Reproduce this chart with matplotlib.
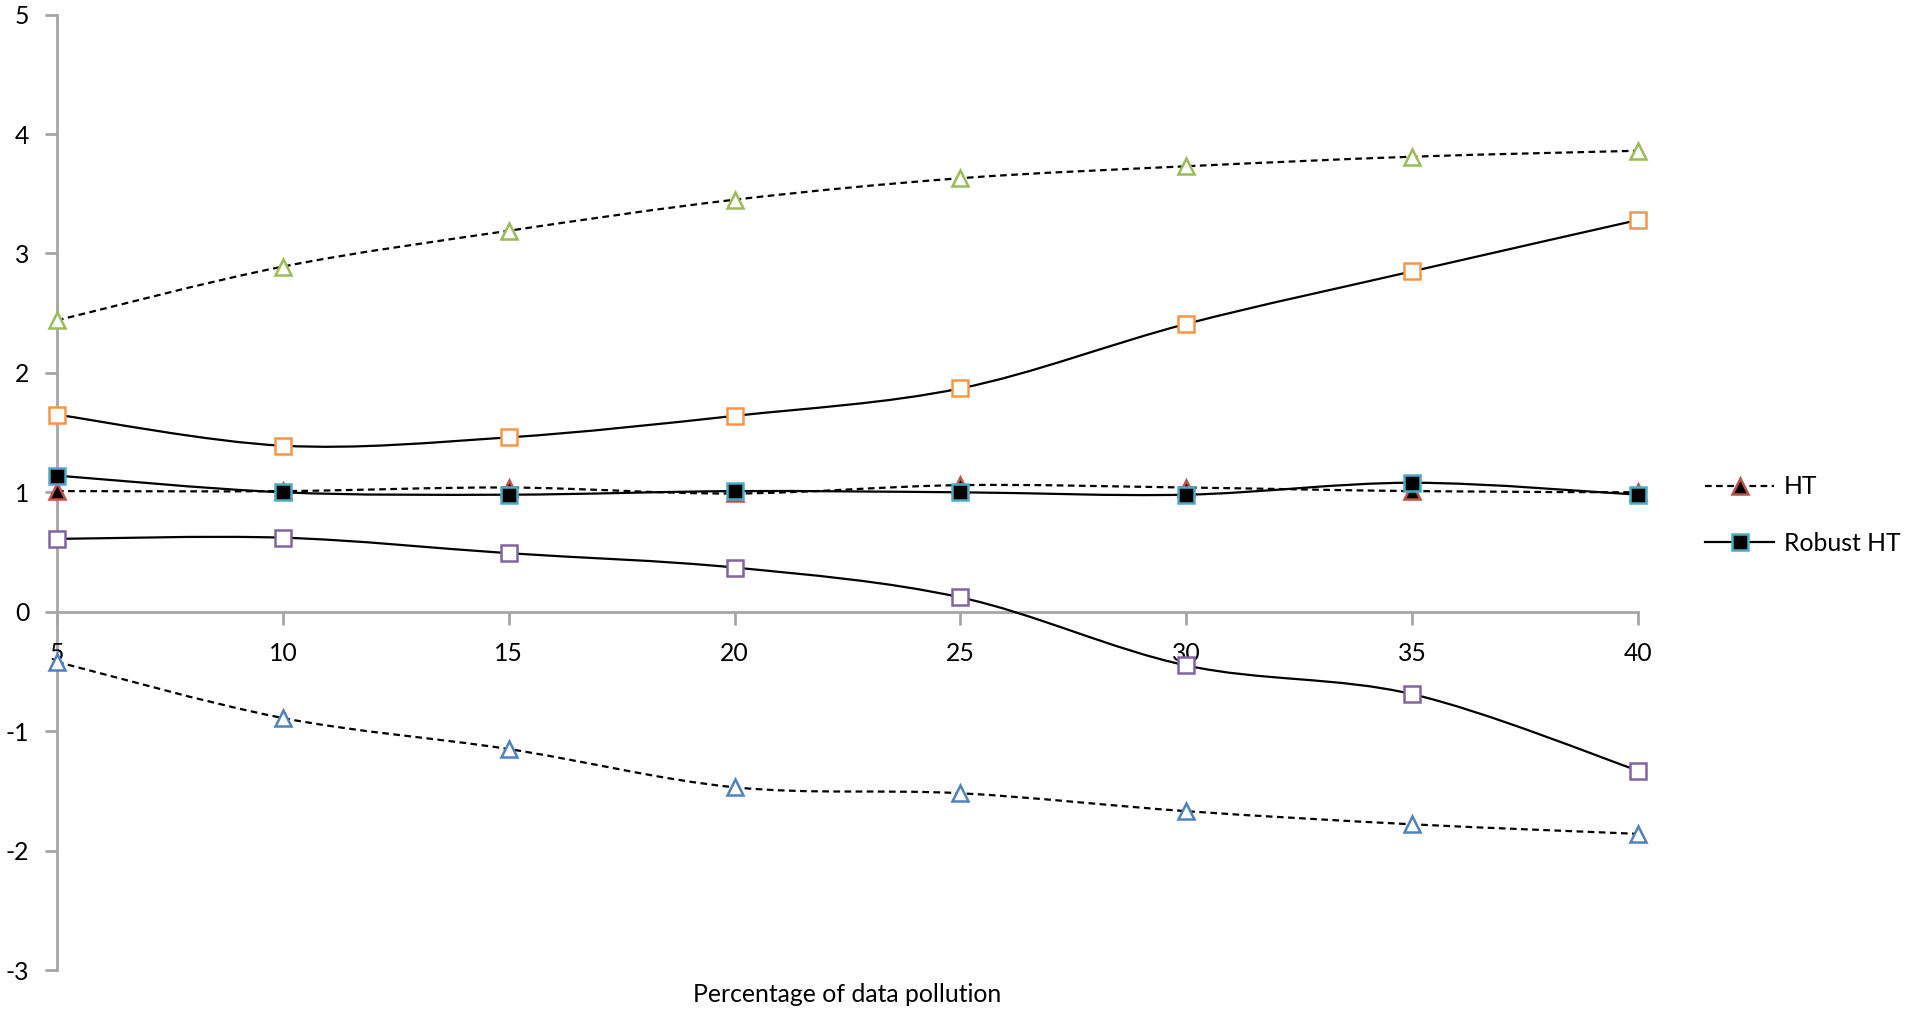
import matplotlib
matplotlib.use("Agg")
import matplotlib.pyplot as plt
from matplotlib.path import Path
from matplotlib.patches import PathPatch
from matplotlib.lines import Line2D
import numpy as np

plt.rcParams['font.family'] = ['Lato', 'DejaVu Sans']

pollution = [5, 10, 15, 20, 25, 30, 35, 40]
upper_ht = [2.44, 2.89, 3.19, 3.45, 3.63, 3.73, 3.81, 3.86]
upper_robust = [1.65, 1.39, 1.46, 1.64, 1.87, 2.41, 2.85, 3.28]
ht = [1.01, 1.01, 1.04, 0.99, 1.06, 1.04, 1.01, 1.00]
robust_ht = [1.14, 1.00, 0.98, 1.01, 1.00, 0.98, 1.08, 0.98]
lower_robust = [0.61, 0.62, 0.49, 0.37, 0.12, -0.45, -0.69, -1.33]
lower_ht = [-0.42, -0.89, -1.15, -1.47, -1.52, -1.67, -1.78, -1.86]

y_ticks = [-3, -2, -1, 0, 1, 2, 3, 4, 5]
x_label = "Percentage of data pollution"

W, H = 1910, 1011
fig = plt.figure(figsize=(W / 100, H / 100), dpi=100)
ax = fig.add_axes([57 / W, (H - 970) / H, (1638 - 57) / W, (970 - 14.6) / H])
ax.set_xlim(5, 40)
ax.set_ylim(-3, 5)

axis_gray = '#A6A6A6'
FS = 17.8


def smooth_path(xs, ys):
    pts = np.column_stack([xs, ys]).astype(float)
    n = len(pts)
    verts = [pts[0]]
    codes = [Path.MOVETO]
    for i in range(n - 1):
        p0 = pts[i - 1] if i > 0 else pts[i]
        p1 = pts[i]
        p2 = pts[i + 1]
        p3 = pts[i + 2] if i + 2 < n else pts[i + 1]
        c1 = p1 + (p2 - p0) / 6.0
        c2 = p2 - (p3 - p1) / 6.0
        verts += [c1, c2, p2]
        codes += [Path.CURVE4] * 3
    return Path(verts, codes)


dash = (0, (3, 2))
series = [
    (upper_ht, dash, '^', 'white', '#9BBB59', None, 4),
    (upper_robust, '-', 's', 'white', '#F79646', None, 4),
    (lower_robust, '-', 's', 'white', '#8064A2', None, 4),
    (lower_ht, dash, '^', 'white', '#4F81BD', None, 4),
    (ht, dash, '^', 'black', '#C0504D', 'HT', 5),
    (robust_ht, '-', 's', 'black', '#4BACC6', 'Robust HT', 6),
]

handles = []
for ys, ls, mk, fc, ec, label, z in series:
    patch = PathPatch(smooth_path(pollution, ys), facecolor='none', edgecolor='black',
                      linewidth=1.6, linestyle=ls, zorder=z, clip_on=False)
    ax.add_patch(patch)
    ax.plot(pollution, ys, linestyle='none', marker=mk, markersize=11,
            markerfacecolor=fc, markeredgecolor=ec, markeredgewidth=1.8, zorder=z + 0.5,
            clip_on=False)
    if label:
        handles.append(Line2D([], [], color='black', linewidth=1.6, linestyle=ls, marker=mk,
                              markersize=11, markerfacecolor=fc, markeredgecolor=ec,
                              markeredgewidth=1.8, label=label))

for s in ['top', 'right']:
    ax.spines[s].set_visible(False)
ax.spines['left'].set_position(('data', 5))
ax.spines['bottom'].set_position(('data', 0))
for s in ['left', 'bottom']:
    ax.spines[s].set_color(axis_gray)
    ax.spines[s].set_linewidth(2)
    ax.spines[s].set_zorder(1)

ax.set_yticks(y_ticks)
ax.set_yticklabels([str(v) for v in y_ticks])
ax.set_xticks(pollution)
ax.set_xticklabels([str(v) for v in pollution])
ax.tick_params(axis='y', direction='out', length=9, width=2, color=axis_gray,
               labelsize=FS, pad=11)
ax.tick_params(axis='x', direction='out', length=9, width=2, color=axis_gray,
               labelsize=FS, pad=13)

fig.text(847 / W, 1 - 994 / H, x_label, ha='center', va='center', fontsize=FS)

fig.legend(handles=handles, loc='center left', bbox_to_anchor=(1695 / W, 1 - 515 / H),
           frameon=False, fontsize=FS, handlelength=2.8, labelspacing=1.35,
           handletextpad=0.4, borderaxespad=0)

fig.savefig('out.png', dpi=100)
